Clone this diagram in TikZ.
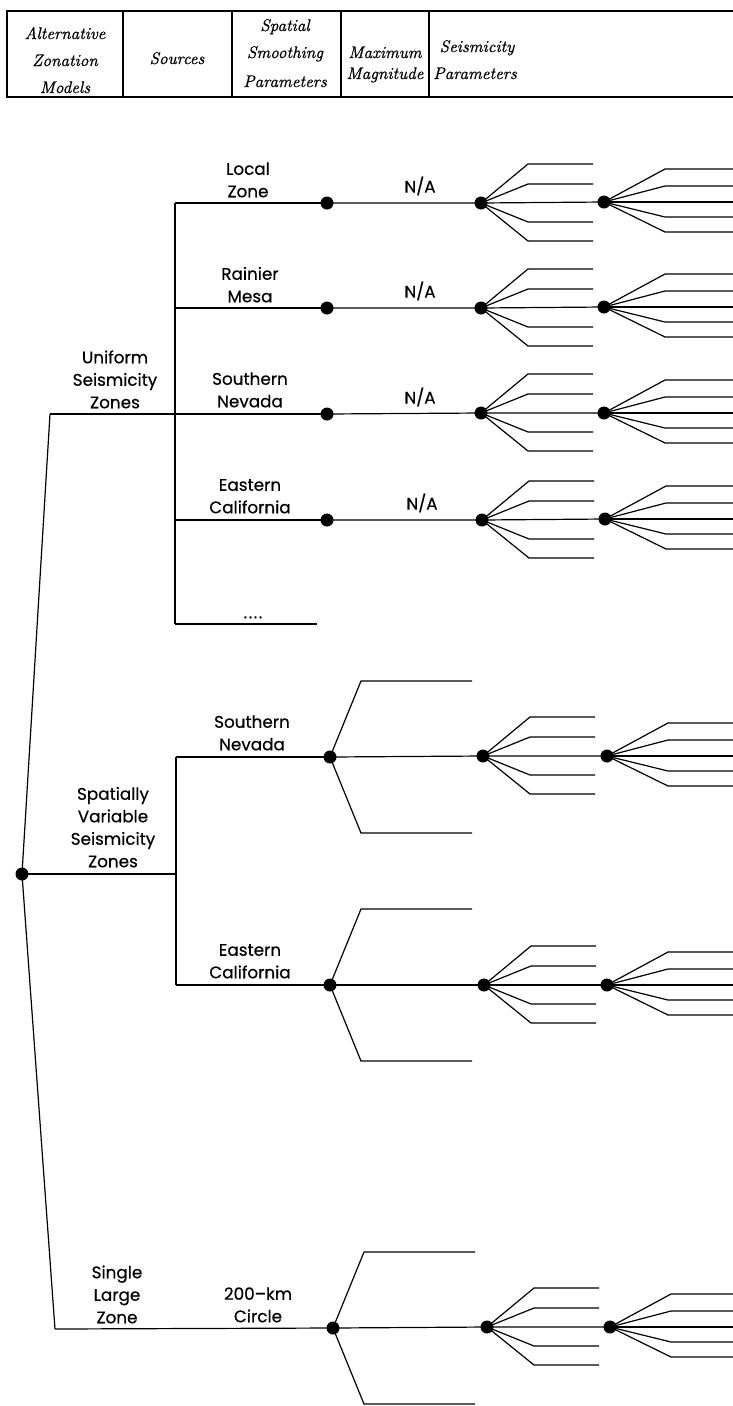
\documentclass[tikz,border=0pt]{standalone}
\usepackage{fontspec}
\newfontfamily\treefont{Poppins}[FakeBold=0.4]
\newfontfamily\hdrfont{lmroman10-italic.otf}[FakeBold=0.7]
\begin{document}
\begin{tikzpicture}[x=1pt,y=-1pt,line width=1.2pt,
  chance/.style={circle,fill=black,inner sep=0pt,minimum size=13pt},
  lbl/.style={font=\treefont\fontsize{16.8}{22.5}\selectfont,align=center,anchor=south,inner sep=0pt},
  hdr/.style={font=\hdrfont\fontsize{16.8}{20}\selectfont,anchor=base,inner sep=0pt}]
\useasboundingbox (0,0) rectangle (733,1406);
\fill[white] (0,0) rectangle (733,1406);
\clip (0,0) rectangle (733,1406);

% ---- column headings ----
\draw (745,11) -- (7,11) -- (7,97) -- (745,97);
\foreach \x in {123,232,341,429} \draw (\x,11) -- (\x,97);
\node[hdr] (h1a) at (65,39) {Alternative};
\node[hdr] (h1b) at (65,66) {Zonation};
\node[hdr] (h1c) at (65,93) {Models};
\node[hdr] (h2)  at (177,64) {Sources};
\node[hdr] (h3a) at (285,31) {Spatial};
\node[hdr] (h3b) at (285,58) {Smoothing};
\node[hdr] (h3c) at (285,87) {Parameters};
\node[hdr] (h4a) at (385,58) {Maximum};
\node[hdr] (h4b) at (385,79) {Magnitude};
\node[hdr] (h5a) at (477,52) {Seismicity};
\node[hdr] (h5b) at (475,79) {Parameters};

% ---- root and zonation branches ----
\node[chance] (root) at (22,874) {};
\coordinate (uc) at (50,414);
\coordinate (sc) at (55,1329);
\coordinate (uj) at (175,414);
\coordinate (ut) at (175,203);
\coordinate (u2) at (175,308);
\coordinate (u4) at (175,520);
\coordinate (ub) at (175,624);
\coordinate (uend) at (317,624);
\coordinate (vj) at (176,874);
\coordinate (vt) at (176,757);
\coordinate (vb) at (176,985);

\draw (uc) -- (root.center) -- (sc);
\draw (uc) -- (uj);
\draw (ut) -- (ub);
\draw (ub) -- (uend);
\draw (root.center) -- (vj);
\draw (vt) -- (vb);

% ---- source / magnitude / seismicity chance nodes ----
\foreach \n/\ax/\ay/\mx/\my/\sx/\sy in {
  1/327/203/481/203/604/202,
  2/327/308/481/308/604/307,
  3/327/414/481/413/604/413,
  4/327/520/482/520/605/519,
  5/330/757/483/756/607/756,
  6/330/985/484/985/607/985,
  7/333/1328/487/1327/610/1327}{
  \node[chance] (a\n) at (\ax,\ay) {};
  \node[chance] (m\n) at (\mx,\my) {};
  \node[chance] (s\n) at (\sx,\sy) {};
  \draw (a\n.center) -- (m\n.center) -- (s\n.center);
  % maximum magnitude branches
  \foreach \dy in {-39,-19,19,38}
    \draw (m\n.center) -- ++(47,\dy) -- ++(65,0);
  % seismicity parameter branches
  \foreach \dy in {-33,-16,15,30}
    \draw (s\n.center) -- ++(61,\dy) -- ++(90,0);
  \draw (s\n.center) -- ++(150,0);
}

% links from the source bars to the source nodes
\draw (ut) -- (a1.center);
\draw (u2) -- (a2.center);
\draw (uj) -- (a3.center);
\draw (u4) -- (a4.center);
\draw (vt) -- (a5.center);
\draw (vb) -- (a6.center);
\draw (sc) -- (a7.center);

% spatial smoothing branches
\foreach \n in {5,6,7}{
  \draw (a\n.center) -- ++(31,-76) -- ++(111,0);
  \draw (a\n.center) -- ++(31,76) -- ++(111,0);
}

% ---- branch labels ----
\node[lbl] (lu) at (115,409) {Uniform\\Seismicity\\Zones};
\node[lbl] (lv) at (113,868) {Spatially\\Variable\\Seismicity\\Zones};
\node[lbl] (ls) at (117,1324) {Single\\Large\\Zone};

\node[lbl] (l1) at (248,198) {Local\\Zone};
\node[lbl] (l2) at (250,303) {Rainier\\Mesa};
\node[lbl] (l3) at (250,408) {Southern\\Nevada};
\node[lbl] (l4) at (250,514) {Eastern\\California};
\node[lbl] (l5) at (253,619) {.\kern1.5pt.\kern1.5pt.\kern1.5pt.};
\node[lbl] (l6) at (252,751) {Southern\\Nevada};
\node[lbl] (l7) at (250,979) {Eastern\\California};
\node[lbl] (l8) at (258,1323) {200–km\\Circle};

\node[lbl] (n1) at (420,196) {N/A};
\node[lbl] (n2) at (420,301) {N/A};
\node[lbl] (n3) at (420,407) {N/A};
\node[lbl] (n4) at (422,513) {N/A};
\end{tikzpicture}
\end{document}
